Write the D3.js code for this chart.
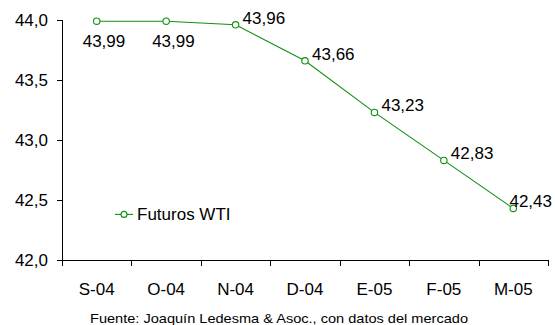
<!DOCTYPE html>
<html>
<head>
<meta charset="utf-8">
<script src="https://cdn.jsdelivr.net/npm/d3@7"></script>
<style>
  html, body { margin: 0; padding: 0; background: #fff; }
  svg { display: block; font-family: "Liberation Sans", Arial, sans-serif; }
</style>
</head>
<body>
<svg id="chart" width="555" height="325"></svg>
<script>
// Futuros WTI: monthly contract prices
const months = ["S-04", "O-04", "N-04", "D-04", "E-05", "F-05", "M-05"];
const futurosWTI = [43.99, 43.99, 43.96, 43.66, 43.23, 42.83, 42.43];
const yTicks = [42.0, 42.5, 43.0, 43.5, 44.0];
const seriesName = "Futuros WTI";
const sourceNote = "Fuente: Joaquín Ledesma & Asoc., con datos del mercado";

const W = 555, H = 325;
const margin = { top: 20, right: 7, bottom: 65, left: 62 };
const svg = d3.select("#chart");

const locale = d3.formatLocale({ decimal: ",", thousands: ".", grouping: [3], currency: ["", ""] });
const fmt1 = locale.format(".1f");
const fmt2 = locale.format(".2f");

const x = d3.scaleBand().domain(months).range([margin.left, W - margin.right]);
const y = d3.scaleLinear().domain([42, 44]).range([H - margin.bottom, margin.top]);
const cx = d => x(d) + x.bandwidth() / 2;

const green = "#109010";
const ink = "#000";
const fontSize = 17;

// Y axis
const yAxis = svg.append("g")
  .attr("transform", `translate(${margin.left},0)`)
  .call(d3.axisLeft(y).tickValues(yTicks).tickFormat(fmt1).tickSize(5).tickPadding(9));
yAxis.select(".domain").attr("stroke", ink).attr("d", `M0.5,${y(44)}V${y(42)}`);
yAxis.selectAll(".tick line").attr("stroke", ink);
yAxis.selectAll(".tick text").attr("font-size", fontSize).attr("fill", ink)
  .attr("font-family", "Liberation Sans, Arial, sans-serif");

// X axis: labels centred in each band, ticks on the band edges
const xAxis = svg.append("g")
  .attr("transform", `translate(0,${y(42)})`)
  .call(d3.axisBottom(x).tickSize(0).tickPadding(23));
xAxis.select(".domain").attr("stroke", ink)
  .attr("d", `M${margin.left},0.5H${W - margin.right}`);
xAxis.selectAll(".tick text").attr("font-size", fontSize).attr("fill", ink)
  .attr("font-family", "Liberation Sans, Arial, sans-serif");
const edges = months.map(m => x(m)).concat([x(months[months.length - 1]) + x.bandwidth()]);
xAxis.selectAll("line.edge").data(edges).enter().append("line")
  .attr("class", "edge")
  .attr("x1", d => Math.round(d) + 0.5).attr("x2", d => Math.round(d) + 0.5)
  .attr("y1", 0).attr("y2", 6)
  .attr("stroke", ink);

// Series line
const line = d3.line().x((d, i) => cx(months[i])).y(d => y(d));
svg.append("path").datum(futurosWTI)
  .attr("d", line).attr("fill", "none").attr("stroke", green).attr("stroke-width", 1.1);

svg.selectAll("circle.pt").data(futurosWTI).enter().append("circle")
  .attr("class", "pt")
  .attr("cx", (d, i) => cx(months[i])).attr("cy", d => y(d)).attr("r", 3.2)
  .attr("fill", "#fff").attr("stroke", green).attr("stroke-width", 1.1);

// Value labels: the flat start sits below the line, the rest above-right
svg.selectAll("text.val").data(futurosWTI).enter().append("text")
  .attr("class", "val")
  .attr("font-size", fontSize).attr("fill", ink)
  .text(d => fmt2(d))
  .each(function (d, i) {
    const px = cx(months[i]), py = y(d);
    const t = d3.select(this);
    if (i < 2) {
      t.attr("x", px - 14).attr("y", py + 26);
    } else {
      const w = this.getComputedTextLength();
      const lx = Math.min(px + 7, W - 3 - w);
      t.attr("x", lx).attr("y", py - 1);
    }
  });

// Legend
const lg = svg.append("g").attr("transform", `translate(115,${y(42.38)})`);
lg.append("line").attr("x1", 0).attr("x2", 18).attr("y1", 0).attr("y2", 0)
  .attr("stroke", green).attr("stroke-width", 1.1);
lg.append("circle").attr("cx", 9).attr("cy", 0).attr("r", 3)
  .attr("fill", "#fff").attr("stroke", green).attr("stroke-width", 1.1);
lg.append("text").attr("x", 22).attr("y", 6).attr("font-size", fontSize).attr("fill", ink)
  .text(seriesName);

// Source note, set in a wide, short face
svg.append("text")
  .attr("x", 90).attr("y", 322.5)
  .attr("font-size", 13).attr("fill", ink)
  .attr("textLength", 378).attr("lengthAdjust", "spacingAndGlyphs")
  .text(sourceNote);
</script>
</body>
</html>
